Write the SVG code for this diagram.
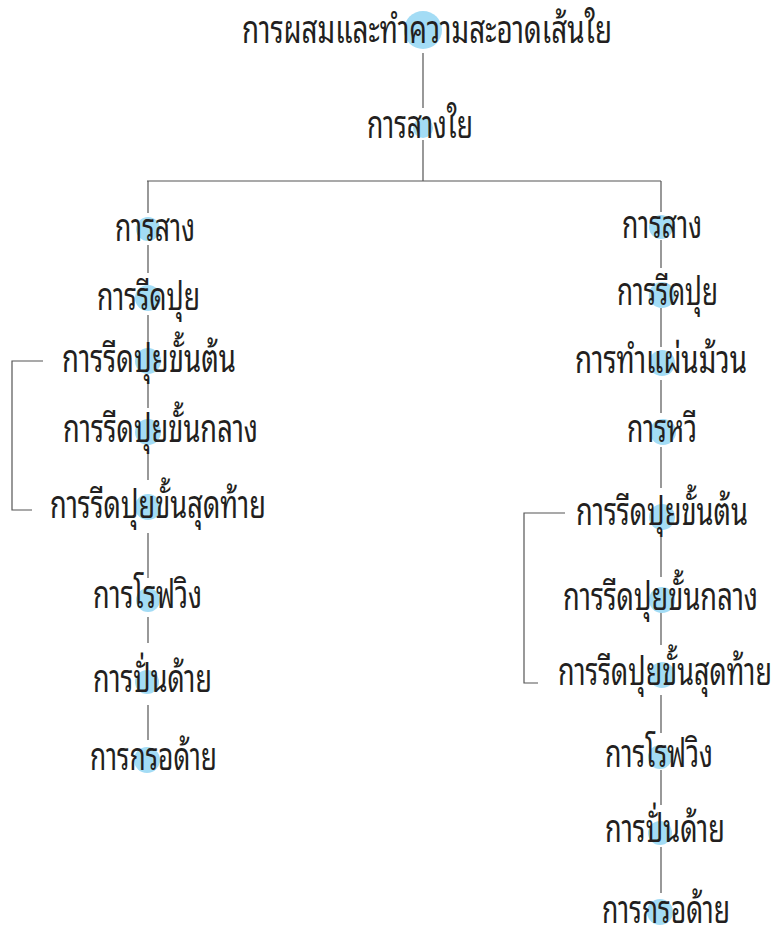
<svg xmlns="http://www.w3.org/2000/svg" width="775" height="929" viewBox="0 0 775 929">
<style>
.t{font-family:"Noto Sans Thai Looped","Noto Serif Thai","Noto Sans Thai","Noto Sans",sans-serif;font-size:38px;fill:#231f20}
.c{fill:#a3dcf5}
.l{stroke:#555;stroke-width:1.2;fill:none}
</style>
<rect width="775" height="929" fill="#fff"/>
<g id="connectors">
<path class="l" d="M423,53V108M423,140V181M147,181H661"/>
<path class="l" d="M148,181V213M148,245V273M148,315V342M148,380V408M148,453V480M148,533V578M148,617V643M148,705V740"/>
<path class="l" d="M661,181V212M661,240V268M661,308V347M661,380V413M661,447V488M661,537V577M661,612V645M661,695V733M661,770V805M661,847V893"/>
<path class="l" d="M43,361H12V510H32"/>
<path class="l" d="M565,513H524V683H538"/>
</g>
<g id="n0"><circle class="c" cx="423" cy="30" r="19"/><text class="t" x="242" y="43" textLength="370" lengthAdjust="spacingAndGlyphs">การผสมและทำความสะอาดเส้นใย</text></g>
<g id="n1"><circle class="c" cx="423" cy="128" r="10"/><text class="t" x="367" y="138" textLength="106" lengthAdjust="spacingAndGlyphs">การสางใย</text></g>
<g id="l1"><circle class="c" cx="148" cy="229" r="12"/><text class="t" x="115" y="241" textLength="80" lengthAdjust="spacingAndGlyphs">การสาง</text></g>
<g id="l2"><circle class="c" cx="148" cy="298" r="13"/><text class="t" x="97" y="310" textLength="103" lengthAdjust="spacingAndGlyphs">การรีดปุย</text></g>
<g id="l3"><circle class="c" cx="148" cy="361" r="13"/><text class="t" x="62" y="372" textLength="174" lengthAdjust="spacingAndGlyphs">การรีดปุยขั้นต้น</text></g>
<g id="l4"><circle class="c" cx="148" cy="432" r="13"/><text class="t" x="63" y="442" textLength="195" lengthAdjust="spacingAndGlyphs">การรีดปุยขั้นกลาง</text></g>
<g id="l5"><circle class="c" cx="148" cy="507" r="13"/><text class="t" x="50" y="518" textLength="216" lengthAdjust="spacingAndGlyphs">การรีดปุยขั้นสุดท้าย</text></g>
<g id="l6"><circle class="c" cx="148" cy="600" r="12"/><text class="t" x="93" y="608" textLength="109" lengthAdjust="spacingAndGlyphs">การโรฟวิง</text></g>
<g id="l7"><circle class="c" cx="147" cy="682" r="12"/><text class="t" x="93" y="692" textLength="119" lengthAdjust="spacingAndGlyphs">การปั่นด้าย</text></g>
<g id="l8"><circle class="c" cx="147" cy="760" r="13"/><text class="t" x="90" y="770" textLength="127" lengthAdjust="spacingAndGlyphs">การกรอด้าย</text></g>
<g id="r1"><circle class="c" cx="661" cy="227" r="12"/><text class="t" x="622" y="238" textLength="80" lengthAdjust="spacingAndGlyphs">การสาง</text></g>
<g id="r2"><circle class="c" cx="662" cy="295" r="13"/><text class="t" x="617" y="305" textLength="101" lengthAdjust="spacingAndGlyphs">การรีดปุย</text></g>
<g id="r3"><circle class="c" cx="662" cy="363" r="13"/><text class="t" x="575" y="373" textLength="172" lengthAdjust="spacingAndGlyphs">การทำแผ่นม้วน</text></g>
<g id="r4"><circle class="c" cx="663" cy="432" r="13"/><text class="t" x="627" y="442" textLength="70" lengthAdjust="spacingAndGlyphs">การหวี</text></g>
<g id="r5"><circle class="c" cx="662" cy="517" r="13"/><text class="t" x="576" y="525" textLength="172" lengthAdjust="spacingAndGlyphs">การรีดปุยขั้นต้น</text></g>
<g id="r6"><circle class="c" cx="662" cy="600" r="13"/><text class="t" x="563" y="610" textLength="195" lengthAdjust="spacingAndGlyphs">การรีดปุยขั้นกลาง</text></g>
<g id="r7"><circle class="c" cx="662" cy="675" r="13"/><text class="t" x="558" y="685" textLength="214" lengthAdjust="spacingAndGlyphs">การรีดปุยขั้นสุดท้าย</text></g>
<g id="r8"><circle class="c" cx="660" cy="757" r="12"/><text class="t" x="605" y="767" textLength="108" lengthAdjust="spacingAndGlyphs">การโรฟวิง</text></g>
<g id="r9"><circle class="c" cx="660" cy="833" r="12"/><text class="t" x="605" y="842" textLength="120" lengthAdjust="spacingAndGlyphs">การปั่นด้าย</text></g>
<g id="r10"><circle class="c" cx="660" cy="912" r="13"/><text class="t" x="602" y="923" textLength="128" lengthAdjust="spacingAndGlyphs">การกรอด้าย</text></g>
</svg>
